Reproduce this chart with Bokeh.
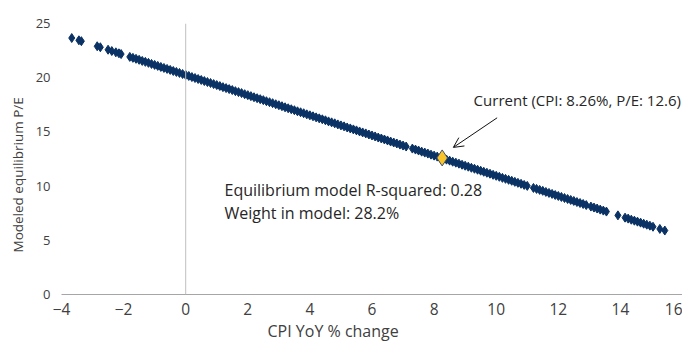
from bokeh.plotting import figure
from bokeh.models import Range1d, Span, Label, Arrow, OpenHead, Title
from bokeh.embed import file_html
from bokeh.resources import INLINE

cpi = [-3.67, -3.44, -3.36, -2.85, -2.75, -2.50, -2.38, -2.25, -2.15, -2.08,
       -1.8, -1.7, -1.6, -1.5, -1.4, -1.3, -1.2, -1.1, -1.0, -0.9, -0.8, -0.7, -0.6, -0.5, -0.4, -0.3, -0.2, -0.1,
       0.0, 0.1, 0.2, 0.3, 0.4, 0.5, 0.6, 0.7, 0.8, 0.9, 1.0, 1.1, 1.2, 1.3, 1.4, 1.5, 1.6, 1.7, 1.8, 1.9,
       2.0, 2.1, 2.2, 2.3, 2.4, 2.5, 2.6, 2.7, 2.8, 2.9, 3.0, 3.1, 3.2, 3.3, 3.4, 3.5, 3.6, 3.7, 3.8, 3.9,
       4.0, 4.1, 4.2, 4.3, 4.4, 4.5, 4.6, 4.7, 4.8, 4.9, 5.0, 5.1, 5.2, 5.3, 5.4, 5.5, 5.6, 5.7, 5.8, 5.9,
       6.0, 6.1, 6.2, 6.3, 6.4, 6.5, 6.6, 6.7, 6.8, 6.9, 7.0, 7.1,
       7.3, 7.4, 7.5, 7.6, 7.7, 7.8, 7.9, 8.0, 8.1, 8.2, 8.3, 8.4, 8.5, 8.6, 8.7, 8.8, 8.9,
       9.0, 9.1, 9.2, 9.3, 9.4, 9.5, 9.6, 9.7, 9.8, 9.9, 10.0, 10.1, 10.2, 10.3, 10.4, 10.5, 10.6, 10.7, 10.8, 10.9, 11.0,
       11.2, 11.3, 11.4, 11.5, 11.6, 11.7, 11.8, 11.9, 12.0, 12.1, 12.2, 12.3, 12.4, 12.5, 12.6, 12.7, 12.8, 12.9,
       13.05, 13.15, 13.25, 13.35, 13.45, 13.55, 13.92,
       14.15, 14.25, 14.35, 14.45, 14.55, 14.65, 14.75, 14.85, 14.95, 15.05, 15.27, 15.43]

pe = [23.66, 23.45, 23.37, 22.90, 22.81, 22.58, 22.46, 22.34, 22.25, 22.18,
      21.92, 21.83, 21.74, 21.65, 21.55, 21.46, 21.37, 21.27, 21.18, 21.09, 20.99, 20.90, 20.81, 20.72, 20.62, 20.53, 20.44, 20.34,
      20.25, 20.16, 20.06, 19.97, 19.88, 19.79, 19.69, 19.60, 19.51, 19.41, 19.32, 19.23, 19.13, 19.04, 18.95, 18.86, 18.76, 18.67, 18.58, 18.48,
      18.39, 18.30, 18.20, 18.11, 18.02, 17.93, 17.83, 17.74, 17.65, 17.55, 17.46, 17.37, 17.27, 17.18, 17.09, 17.00, 16.90, 16.81, 16.72, 16.62,
      16.53, 16.44, 16.34, 16.25, 16.16, 16.07, 15.97, 15.88, 15.79, 15.69, 15.60, 15.51, 15.41, 15.32, 15.23, 15.14, 15.04, 14.95, 14.86, 14.76,
      14.67, 14.58, 14.48, 14.39, 14.30, 14.21, 14.11, 14.02, 13.93, 13.83, 13.74, 13.65,
      13.46, 13.37, 13.28, 13.18, 13.09, 13.00, 12.90, 12.81, 12.72, 12.62, 12.53, 12.44, 12.35, 12.25, 12.16, 12.07, 11.97,
      11.88, 11.79, 11.69, 11.60, 11.51, 11.42, 11.32, 11.23, 11.14, 11.04, 10.95, 10.86, 10.76, 10.67, 10.58, 10.49, 10.39, 10.30, 10.21, 10.11, 10.02,
      9.83, 9.74, 9.65, 9.56, 9.46, 9.37, 9.28, 9.18, 9.09, 9.00, 8.90, 8.81, 8.72, 8.63, 8.53, 8.44, 8.35, 8.25,
      8.11, 8.02, 7.93, 7.83, 7.74, 7.65, 7.30,
      7.09, 7.00, 6.90, 6.81, 6.72, 6.63, 6.53, 6.44, 6.35, 6.25, 6.05, 5.90]

current_cpi = [8.26]
current_pe = [12.6]

x_ticks = [-4, -2, 0, 2, 4, 6, 8, 10, 12, 14, 16]
y_ticks = [0, 5, 10, 15, 20, 25]

FONT = "Open Sans"
TXT = "#404040"
ANN = "#262626"

p = figure(width=682, height=341, output_backend="svg", toolbar_location=None,
           x_range=Range1d(-4, 16), y_range=Range1d(0, 25),
           min_border_left=0, min_border_right=0, min_border_top=23, min_border_bottom=0)
p.outline_line_color = None
p.xgrid.visible = False
p.ygrid.visible = False

p.add_layout(Span(location=0, dimension="height", line_color="#BFBFBF", line_width=1))

p.scatter(x=cpi, y=pe, marker="diamond", size=9, fill_color="#0A3264", line_color="#0A3264")
p.scatter(x=current_cpi, y=current_pe, marker="diamond", size=16,
          fill_color="#F9C42B", line_color="#3C4F6B", line_width=1)

p.xaxis.ticker = x_ticks
p.yaxis.ticker = y_ticks
for ax in (p.xaxis, p.yaxis):
    ax.major_tick_line_color = None
    ax.minor_tick_line_color = None
    ax.major_label_text_font = FONT
    ax.major_label_text_color = TXT
p.xaxis.major_label_text_font_size = "15.5px"
p.yaxis.major_label_text_font_size = "13px"
p.xaxis.axis_line_color = "#A6A6A6"
p.yaxis.axis_line_color = None
p.xaxis.major_label_standoff = 2
p.yaxis.major_label_standoff = 5

# axis titles, offset along the axis as in the reference
p.add_layout(Title(text="CPI YoY % change", align="left", offset=206, standoff=0,
                   text_font=FONT, text_font_size="16px", text_font_style="normal",
                   text_color=TXT), "below")
p.add_layout(Title(text="Modeled equilibrium P/E", align="left", offset=42, standoff=12,
                   text_font=FONT, text_font_size="13.5px", text_font_style="normal",
                   text_color=TXT), "left")

p.add_layout(Label(x=1.25, y=9.6, text="Equilibrium model R-squared: 0.28",
                   text_font=FONT, text_font_size="16px", text_color=ANN,
                   text_baseline="middle"))
p.add_layout(Label(x=1.25, y=7.5, text="Weight in model: 28.2%",
                   text_font=FONT, text_font_size="16px", text_color=ANN,
                   text_baseline="middle"))
p.add_layout(Label(x=15.95, y=17.95, text="Current (CPI: 8.26%, P/E: 12.6)",
                   text_font=FONT, text_font_size="15px", text_color=ANN,
                   text_align="right", text_baseline="middle"))
p.add_layout(Arrow(x_start=10.03, y_start=16.3, x_end=8.62, y_end=13.57,
                   line_color="#111111", line_width=1,
                   end=OpenHead(size=10, line_color="#111111", line_width=1)))

open("out.html", "w").write(file_html(p, INLINE))
